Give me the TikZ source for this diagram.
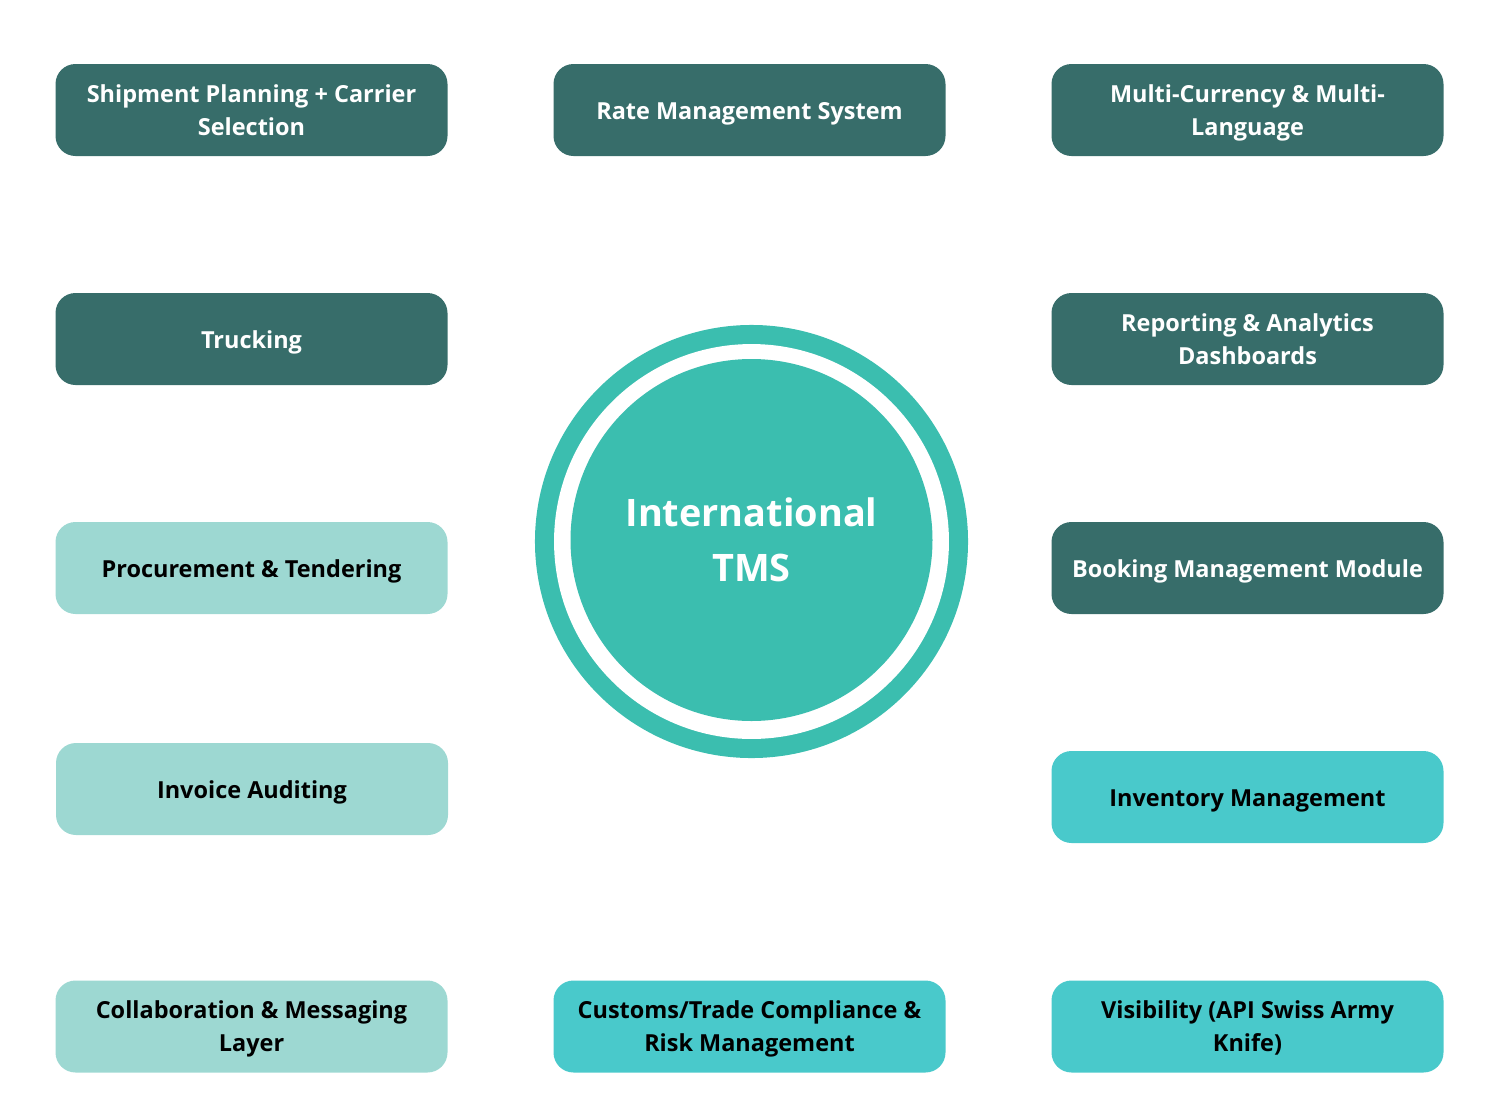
\documentclass[tikz,border=0pt]{standalone}
\usepackage{fontspec}
\setmainfont{Open Sans}
\definecolor{tmsdark}{HTML}{376D6A}
\definecolor{tmslight}{HTML}{9DD8D2}
\definecolor{tmscyan}{HTML}{49C9CB}
\definecolor{tmsring}{HTML}{3BBEAF}
\tikzset{
    module/.style={rectangle, rounded corners=15pt, minimum width=294pt, minimum height=69pt,
        align=center, inner sep=0pt, text depth=0pt, font=\fontsize{17.6}{24.75}\selectfont\bfseries},
    oneline/.style={text height=14.5pt},
    darkmod/.style={module, fill=tmsdark, text=white},
    lightmod/.style={module, fill=tmslight, text=black},
    cyanmod/.style={module, fill=tmscyan, text=black},
}
\begin{document}
\begin{tikzpicture}[x=0.75pt, y=-0.75pt]
    \useasboundingbox (0,0) rectangle (1500,1100);

    % centre
    \fill[tmsring] (751.5,541.5) circle (162.4pt);
    \fill[white] (751.5,541.5) circle (148.1pt);
    \node[circle, fill=tmsring, minimum size=271.5pt, inner sep=0pt, text=white, align=center,
        font=\fontsize{28.4}{41}\selectfont\bfseries] (tms) at (751.5,540) {International\\TMS};

    % left column
    \node[darkmod] (ship) at (251.5,110) {Shipment Planning + Carrier\\Selection};
    \node[darkmod, oneline] (truck) at (251.5,339) {Trucking};
    \node[lightmod, oneline] (procure) at (251.5,568) {Procurement \& Tendering};
    \node[lightmod, oneline] (invoice) at (252,789) {Invoice Auditing};
    \node[lightmod] (collab) at (251.5,1026.5) {Collaboration \& Messaging\\Layer};

    % middle column
    \node[darkmod, oneline] (rate) at (749.5,110) {Rate Management System};
    \node[cyanmod] (customs) at (749.5,1026.5) {Customs/Trade Compliance \&\\Risk Management};

    % right column
    \node[darkmod] (multi) at (1247.5,110) {Multi-Currency \& Multi-\\Language};
    \node[darkmod] (report) at (1247.5,339) {Reporting \& Analytics\\Dashboards};
    \node[darkmod, oneline] (booking) at (1247.5,568) {Booking Management Module};
    \node[cyanmod, oneline] (inventory) at (1247.5,797) {Inventory Management};
    \node[cyanmod] (visib) at (1247.5,1026.5) {Visibility (API Swiss Army\\Knife)};
\end{tikzpicture}
\end{document}
